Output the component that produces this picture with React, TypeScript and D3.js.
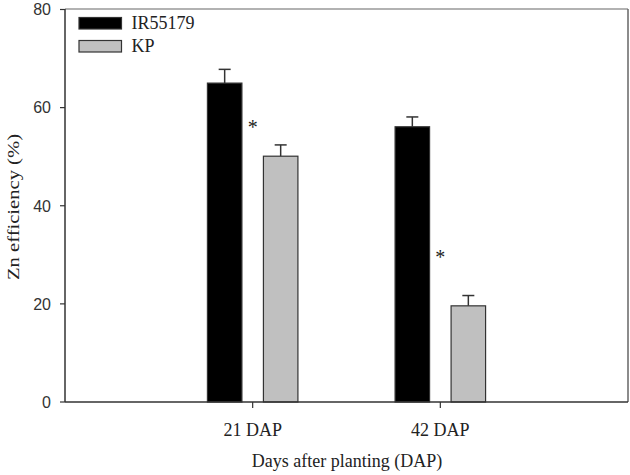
import React from "react";
import * as d3 from "d3";

const categories = ["21 DAP", "42 DAP"];
const series = ["IR55179", "KP"];
const ir55179Values = [65.0, 56.1];
const ir55179Errors = [2.8, 2.0];
const kpValues = [50.1, 19.6];
const kpErrors = [2.3, 2.1];
const significanceMarks = [56.9, 30.4];
const yTicks = [0, 20, 40, 60, 80];

const seriesColors = ["#000000", "#c0c0c0"];

const W = 630;
const H = 475;
const left = 65;
const right = 628;
const top = 9.5;
const bottom = 402;

export default function App() {
  const x = d3.scalePoint<string>().domain(categories).range([left, right]).padding(1);
  const inner = d3.scaleBand<string>().domain(series).range([-45.25, 45.25]).paddingInner(0.384).paddingOuter(0);
  const y = d3.scaleLinear().domain([0, 80]).range([bottom, top]);

  const data = [
    { s: series[0], values: ir55179Values, errors: ir55179Errors, color: seriesColors[0] },
    { s: series[1], values: kpValues, errors: kpErrors, color: seriesColors[1] },
  ];

  const serif = "'Liberation Serif', 'Times New Roman', serif";
  const sans = "'Liberation Sans', Arial, sans-serif";

  return (
    <svg width={W} height={H} style={{ position: "absolute", left: 0, top: 0, background: "#fff" }}>
      {/* frame top/right */}
      <line x1={left} x2={right} y1={top - 0.5} y2={top - 0.5} stroke="#666" strokeWidth={1.2} />
      <line x1={right} x2={right} y1={top - 0.5} y2={bottom} stroke="#666" strokeWidth={1.5} />
      {/* bars */}
      {data.map((d) =>
        categories.map((c, i) => {
          const bx = (x(c) as number) + (inner(d.s) as number);
          const bw = inner.bandwidth();
          const yv = y(d.values[i]);
          const ye = y(d.values[i] + d.errors[i]);
          const cx = bx + bw / 2;
          return (
            <g key={d.s + c}>
              <line x1={cx} x2={cx} y1={yv} y2={ye} stroke="#333" strokeWidth={1.5} />
              <line x1={cx - 6} x2={cx + 6} y1={ye} y2={ye} stroke="#333" strokeWidth={1.5} />
              <rect x={bx} y={yv} width={bw} height={bottom - yv} fill={d.color} stroke="#333" strokeWidth={1.2} />
            </g>
          );
        })
      )}
      {/* significance */}
      {categories.map((c, i) => (
        <text key={"s" + c} x={x(c) as number} y={y(significanceMarks[i]) + 11} textAnchor="middle" fontFamily={serif} fontSize={20} fill="#222">
          *
        </text>
      ))}
      {/* axes */}
      <line x1={left} x2={left} y1={top - 0.5} y2={bottom} stroke="#333" strokeWidth={1.5} />
      <line x1={left} x2={right} y1={bottom} y2={bottom} stroke="#333" strokeWidth={1.5} />
      {yTicks.map((t) => (
        <g key={"y" + t}>
          <line x1={left - 5} x2={left} y1={y(t)} y2={y(t)} stroke="#333" strokeWidth={1.2} />
          <text x={left - 14} y={y(t)} dy="0.36em" textAnchor="end" fontFamily={sans} fontSize={16} fill="#333">
            {t}
          </text>
        </g>
      ))}
      {categories.map((c) => (
        <g key={"x" + c}>
          <line x1={x(c) as number} x2={x(c) as number} y1={bottom} y2={bottom + 6} stroke="#333" strokeWidth={1.2} />
          <text x={x(c) as number} y={436} textAnchor="middle" fontFamily={serif} fontSize={18} fill="#222">
            {c}
          </text>
        </g>
      ))}
      <text x={347} y={467} textAnchor="middle" fontFamily={serif} fontSize={18} fill="#222">
        Days after planting (DAP)
      </text>
      <text
        transform={`translate(19, 207) rotate(-90)`}
        textAnchor="middle"
        fontFamily={serif}
        fontSize={17}
        textLength={146}
        lengthAdjust="spacingAndGlyphs"
        fill="#222"
      >
        Zn efficiency (%)
      </text>
      {/* legend */}
      {series.map((s, i) => (
        <g key={"l" + s}>
          <rect x={79} y={17.5 + i * 23} width={42.5} height={11.5} fill={seriesColors[i]} stroke="#333" strokeWidth={1.2} />
          <text x={131.5} y={29 + i * 23} fontFamily={serif} fontSize={18} fill="#222">
            {s}
          </text>
        </g>
      ))}
    </svg>
  );
}
